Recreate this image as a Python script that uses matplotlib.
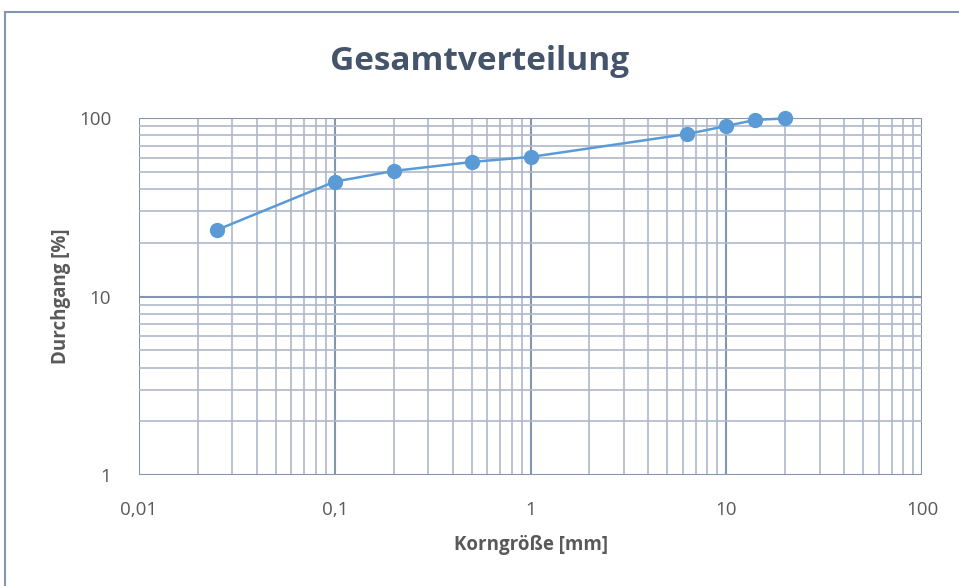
import matplotlib
matplotlib.use("Agg")
import matplotlib.pyplot as plt
from matplotlib.ticker import FixedLocator, FuncFormatter, LogLocator, NullFormatter
from matplotlib.patches import Rectangle

korngroesse = [0.025, 0.1, 0.2, 0.5, 1, 6.3, 10, 14, 20]
durchgang = [23.6, 44.0, 50.5, 56.7, 60.5, 81.3, 90.2, 97.5, 99.5]
x_ticks = [0.01, 0.1, 1, 10, 100]
x_tick_labels = ["0,01", "0,1", "1", "10", "100"]
y_ticks = [1, 10, 100]
y_tick_labels = ["1", "10", "100"]

plt.rcParams['font.family'] = ['Open Sans', 'DejaVu Sans']

fig = plt.figure(figsize=(9.59, 5.86), dpi=100)
ax = fig.add_axes([139/959, 1-475/586, (922-139)/959, (475-118)/586])

ax.set_xscale('log')
ax.set_yscale('log')
ax.set_xlim(0.01, 100)
ax.set_ylim(1, 100)

ax.xaxis.set_major_locator(FixedLocator(x_ticks))
ax.xaxis.set_major_formatter(FuncFormatter(lambda v, p: dict(zip(x_ticks, x_tick_labels)).get(v, "")))
ax.yaxis.set_major_locator(FixedLocator(y_ticks))
ax.yaxis.set_major_formatter(FuncFormatter(lambda v, p: dict(zip(y_ticks, y_tick_labels)).get(v, "")))
ax.xaxis.set_minor_locator(LogLocator(base=10, subs=range(2, 10)))
ax.yaxis.set_minor_locator(LogLocator(base=10, subs=range(2, 10)))
ax.xaxis.set_minor_formatter(NullFormatter())
ax.yaxis.set_minor_formatter(NullFormatter())

ax.grid(True, which='major', color='#8595AF', linewidth=1.5)
ax.grid(True, which='minor', color='#AFB9CB', linewidth=1.2)
ax.set_axisbelow(True)
for s in ax.spines.values():
    s.set_visible(False)
ax.tick_params(which='both', length=0, labelsize=13.5, labelcolor='#595959')
ax.tick_params(axis='x', pad=19)
ax.tick_params(axis='y', pad=20)

ax.plot(korngroesse, durchgang, color='#5B9BD5', linewidth=1.8, marker='o',
        markersize=10, markerfacecolor='#5B9BD5', markeredgecolor='#5B9BD5', zorder=3, clip_on=False)

ax.set_xlabel("Korngröße [mm]", fontsize=13.5, fontweight='bold', color='#595959', labelpad=11)
ax.set_ylabel("Durchgang [%]", fontsize=13.5, fontweight='bold', color='#595959', labelpad=6)
fig.text(0.5, 1-62/586, "Gesamtverteilung", ha='center', va='center',
         fontsize=24, fontweight='bold', color='#44546A')

fig.patches.append(Rectangle((5/959, -0.1), 1.2, 1.1 - 12/586, transform=fig.transFigure,
                             fill=False, edgecolor='#8496B0', linewidth=1.5))

fig.savefig("out.png", dpi=100)
